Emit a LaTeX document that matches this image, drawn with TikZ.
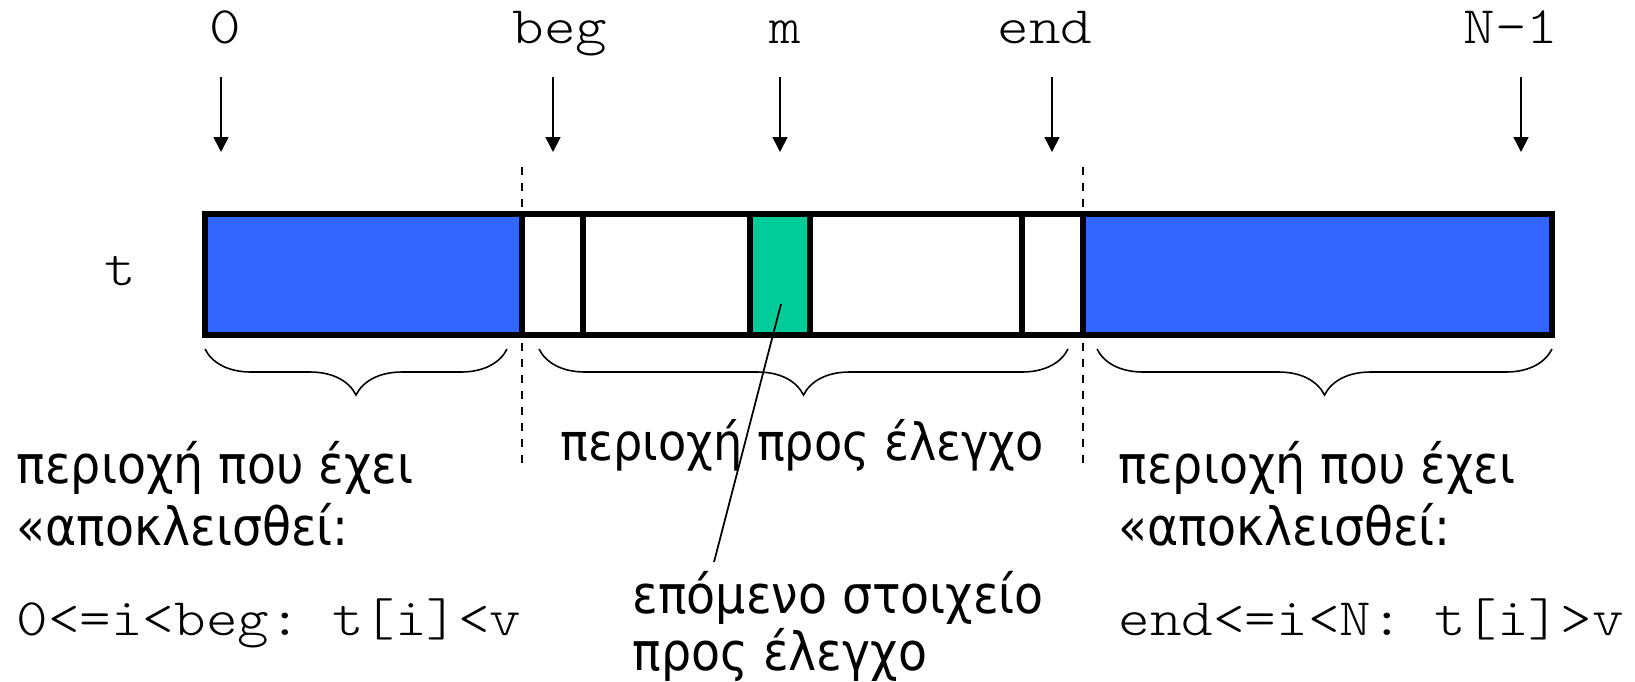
\documentclass[tikz,border=0pt]{standalone}
\usepackage{fontspec}
\setmainfont{DejaVu Sans Condensed}
\setmonofont[FakeStretch=1.14]{lmmonolt10-regular.otf}
\usetikzlibrary{positioning,arrows.meta,decorations.pathreplacing}
\definecolor{doneblue}{HTML}{3366FF}
\definecolor{nextgreen}{HTML}{00CC99}
\tikzset{
	cellbox/.style={draw, line width=1.55pt, rectangle, inner sep=0pt, outer sep=0pt, minimum height=1.21cm, anchor=west},
	idx/.style={font=\ttfamily\fontsize{15}{18}\selectfont, anchor=base, inner sep=0pt},
	ptr/.style={line width=0.45pt, -{Triangle[length=0.15cm,width=0.15cm]}},
	grtext/.style={font=\fontsize{15}{18}\selectfont, anchor=base west, inner sep=0pt},
	cond/.style={font=\ttfamily\fontsize{15}{18}\selectfont, anchor=base west, inner sep=0pt},
	region/.style={decorate, decoration={brace, mirror, amplitude=0.46cm}, line width=0.45pt},
	splitline/.style={dash pattern=on 0.08cm off 0.08cm, line width=0.45pt}
}
\newcommand{\tcell}[4]{\node[cellbox, fill=#4, minimum width=#3cm] (#1) at (#2,-2.745) {};}
\newcommand{\pointer}[4]{\node[idx] (#1) at (#2,-0.43) {#4};
					\coordinate (#1top) at (#3,-0.77);
					\coordinate (#1tip) at (#3,-1.52);
					\draw[ptr] (#1top) -- (#1tip);}

\begin{document}
\begin{tikzpicture}
					\useasboundingbox (0,0) rectangle (16.35,-6.81);

					% index labels
					\pointer{zero}{2.25}{2.21}{0}
					\pointer{beg}{5.60}{5.53}{beg}
					\pointer{mid}{7.85}{7.80}{m}
					\pointer{end}{10.45}{10.52}{end}
					\pointer{last}{15.11}{15.21}{N-1}

					% the array t
					\node[idx] (name) at (1.20,-2.85) {t};
					\tcell{lo}{2.05}{3.17}{doneblue}
					\tcell{c1}{5.22}{0.61}{white}
					\tcell{c2}{5.83}{1.67}{white}
					\tcell{mcell}{7.50}{0.60}{nextgreen}
					\tcell{c3}{8.10}{2.12}{white}
					\tcell{c4}{10.22}{0.61}{white}
					\tcell{hi}{10.83}{4.69}{doneblue}

					% borders of the regions
					\coordinate (b1) at (5.22,-1.67);
					\coordinate (b2) at (5.22,-4.68);
					\coordinate (e1) at (10.83,-1.67);
					\coordinate (e2) at (10.83,-4.68);
					\draw[splitline] (b1) -- (b2);
					\draw[splitline] (e1) -- (e2);

					% braces
					\coordinate (lo1) at (2.05,-3.49);
					\coordinate (lo2) at (5.07,-3.49);
					\coordinate (md1) at (5.39,-3.49);
					\coordinate (md2) at (10.68,-3.49);
					\coordinate (hi1) at (10.97,-3.49);
					\coordinate (hi2) at (15.52,-3.49);
					\draw[region] (lo1) -- (lo2);
					\draw[region] (md1) -- (md2);
					\draw[region] (hi1) -- (hi2);

					% texts under the braces
					\node[grtext] (left1) at (0.16,-4.83) {περιοχή που έχει};
					\node[grtext] (left2) at (0.16,-5.45) {«αποκλεισθεί:};
					\node[cond] (left3) at (0.16,-6.35) {0<=i<beg: t[i]<v};
					\node[grtext, font=\fontsize{14.6}{18}\selectfont] (open) at (5.60,-4.60) {περιοχή προς έλεγχο};
					\node[grtext] (right1) at (11.18,-4.83) {περιοχή που έχει};
					\node[grtext] (right2) at (11.18,-5.45) {«αποκλεισθεί:};
					\node[cond] (right3) at (11.18,-6.35) {end<=i<N: t[i]>v};
					\node[grtext] (next1) at (6.32,-6.13) {επόμενο στοιχείο};
					\node[grtext] (next2) at (6.32,-6.70) {προς έλεγχο};

					% leader to the next element
					\coordinate (lead1) at (7.81,-3.04);
					\coordinate (lead2) at (7.14,-5.62);
					\draw[line width=0.5pt] (lead1) -- (lead2);

\end{tikzpicture}
\end{document}
